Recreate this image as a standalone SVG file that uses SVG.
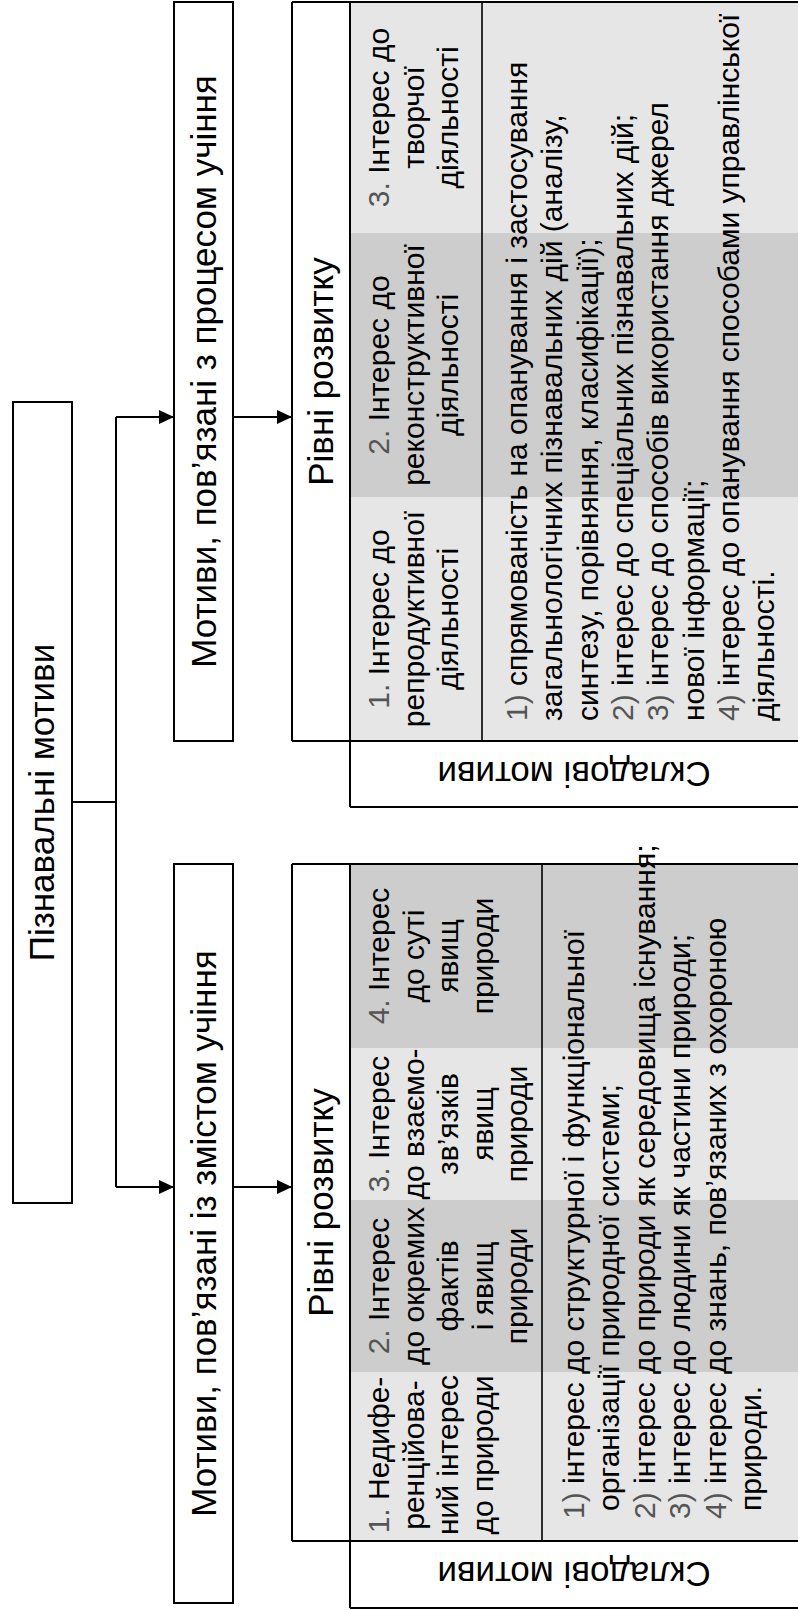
<svg xmlns="http://www.w3.org/2000/svg" width="798" height="1610" viewBox="0 0 798 1610">
<defs>
<style>
text{font-family:"Liberation Sans",Arial,sans-serif;fill:#000}
.big{font-size:35px}
.sm{font-size:30px}
.mid{text-anchor:middle}
.box{fill:#fff;stroke:#000;stroke-width:2}
.ln{stroke:#000;stroke-width:2;fill:none}
.thin{stroke:#000;stroke-width:1.6;fill:none}
.lt{fill:#e6e6e6}
.dk{fill:#cdcdcd}
.n{fill:#555}
</style>
<marker id="ah" viewBox="0 0 15 14" refX="15" refY="7" markerWidth="15" markerHeight="14" markerUnits="userSpaceOnUse" orient="auto">
<path d="M0,0 L15,7 L0,14 z" fill="#000"/>
</marker>
</defs>
<rect width="798" height="1610" fill="#fff"/>

<g id="connectors">
<path class="ln" d="M72,802 H116 M116,417 V1187"/>
<path class="ln" d="M116,417 H174" marker-end="url(#ah)"/>
<path class="ln" d="M116,1187 H174" marker-end="url(#ah)"/>
<path class="ln" d="M233,417 H292" marker-end="url(#ah)"/>
<path class="ln" d="M233,1187 H292" marker-end="url(#ah)"/>
</g>

<g id="root">
<rect class="box" x="13" y="402" width="59" height="801"/>
<text class="big mid" transform="translate(54,802.5) rotate(-90)">Пізнавальні мотиви</text>
</g>

<g id="process">
<rect class="box" x="174" y="2" width="59" height="739"/>
<text class="big mid" transform="translate(216,371.5) rotate(-90)">Мотиви, пов’язані з процесом учіння</text>
</g>

<g id="content">
<rect class="box" x="174" y="864" width="59" height="739"/>
<text class="big mid" transform="translate(216,1233.5) rotate(-90)">Мотиви, пов’язані із змістом учіння</text>
</g>

<g id="process-table">
<rect x="292" y="2" width="58" height="739" fill="#fff"/>
<rect class="lt" x="350" y="497" width="448" height="244"/>
<rect class="dk" x="350" y="233" width="448" height="264"/>
<rect class="lt" x="350" y="2" width="448" height="231"/>
<rect x="350" y="741" width="448" height="66" fill="#fff"/>
<path class="ln" d="M292,2 H798 M292,741 H798 M350,807 H798 M292,2 V741 M350,2 V807"/>
<path class="thin" d="M482,2 V741"/>
<text class="big mid" transform="translate(333,371.5) rotate(-90)">Рівні розвитку</text>
<text class="sm mid" transform="translate(389,619) rotate(-90)"><tspan class="n">1.</tspan> Інтерес до</text>
<text class="sm mid" transform="translate(423.5,619) rotate(-90)">репродуктивної</text>
<text class="sm mid" transform="translate(458,619) rotate(-90)">діяльності</text>
<text class="sm mid" transform="translate(389,365) rotate(-90)"><tspan class="n">2.</tspan> Інтерес до</text>
<text class="sm mid" transform="translate(423.5,365) rotate(-90)">реконструктивної</text>
<text class="sm mid" transform="translate(458,365) rotate(-90)">діяльності</text>
<text class="sm mid" transform="translate(389,117.5) rotate(-90)"><tspan class="n">3.</tspan> Інтерес до</text>
<text class="sm mid" transform="translate(423.5,117.5) rotate(-90)">творчої</text>
<text class="sm mid" transform="translate(458,117.5) rotate(-90)">діяльності</text>
<text class="sm" transform="translate(527,721) rotate(-90)"><tspan class="n">1)</tspan> спрямованість на опанування і застосування</text>
<text class="sm" transform="translate(562.3,721) rotate(-90)">загальнологічних пізнавальних дій (аналізу,</text>
<text class="sm" transform="translate(597.6,721) rotate(-90)">синтезу, порівняння, класифікації);</text>
<text class="sm" transform="translate(632.9,721) rotate(-90)"><tspan class="n">2)</tspan> інтерес до спеціальних пізнавальних дій;</text>
<text class="sm" transform="translate(668.2,721) rotate(-90)"><tspan class="n">3)</tspan> інтерес до способів використання джерел</text>
<text class="sm" transform="translate(703.5,721) rotate(-90)">нової інформації;</text>
<text class="sm" transform="translate(738.8,721) rotate(-90)"><tspan class="n">4)</tspan> інтерес до опанування способами управлінської</text>
<text class="sm" transform="translate(774,721) rotate(-90)">діяльності.</text>
<text class="big mid" transform="translate(574,762) rotate(180)">Складові мотиви</text>
</g>

<g id="content-table">
<rect x="292" y="864" width="58" height="677" fill="#fff"/>
<rect class="lt" x="350" y="1372" width="448" height="169"/>
<rect class="dk" x="350" y="1200" width="448" height="172"/>
<rect class="lt" x="350" y="1048" width="448" height="152"/>
<rect class="dk" x="350" y="864" width="448" height="184"/>
<rect x="350" y="1541" width="448" height="67" fill="#fff"/>
<path class="ln" d="M292,864 H798 M292,1541 H798 M350,1608 H798 M292,864 V1541 M350,864 V1608"/>
<path class="thin" d="M542,864 V1541"/>
<text class="big mid" transform="translate(333,1202.5) rotate(-90)">Рівні розвитку</text>
<text class="sm mid" transform="translate(389,1455) rotate(-90)"><tspan class="n">1.</tspan> Недифе-</text>
<text class="sm mid" transform="translate(423.5,1455) rotate(-90)">ренційова-</text>
<text class="sm mid" transform="translate(458,1455) rotate(-90)">ний інтерес</text>
<text class="sm mid" transform="translate(492.5,1455) rotate(-90)">до природи</text>
<text class="sm mid" transform="translate(389,1286) rotate(-90)"><tspan class="n">2.</tspan> Інтерес</text>
<text class="sm mid" transform="translate(423.5,1286) rotate(-90)">до окремих</text>
<text class="sm mid" transform="translate(458,1286) rotate(-90)">фактів</text>
<text class="sm mid" transform="translate(492.5,1286) rotate(-90)">і явищ</text>
<text class="sm mid" transform="translate(527,1286) rotate(-90)">природи</text>
<text class="sm mid" transform="translate(389,1124) rotate(-90)"><tspan class="n">3.</tspan> Інтерес</text>
<text class="sm mid" transform="translate(423.5,1124) rotate(-90)">до взаємо-</text>
<text class="sm mid" transform="translate(458,1124) rotate(-90)">зв’язків</text>
<text class="sm mid" transform="translate(492.5,1124) rotate(-90)">явищ</text>
<text class="sm mid" transform="translate(527,1124) rotate(-90)">природи</text>
<text class="sm mid" transform="translate(389,956) rotate(-90)"><tspan class="n">4.</tspan> Інтерес</text>
<text class="sm mid" transform="translate(423.5,956) rotate(-90)">до суті</text>
<text class="sm mid" transform="translate(458,956) rotate(-90)">явищ</text>
<text class="sm mid" transform="translate(492.5,956) rotate(-90)">природи</text>
<text class="sm" transform="translate(584,1519) rotate(-90)"><tspan class="n">1)</tspan> інтерес до структурної і функціональної</text>
<text class="sm" transform="translate(619.4,1511) rotate(-90)">організації природної системи;</text>
<text class="sm" transform="translate(654.8,1519) rotate(-90)"><tspan class="n">2)</tspan> інтерес до природи як середовища існування;</text>
<text class="sm" transform="translate(690.2,1519) rotate(-90)"><tspan class="n">3)</tspan> інтерес до людини як частини природи;</text>
<text class="sm" transform="translate(725.6,1519) rotate(-90)"><tspan class="n">4)</tspan> інтерес до знань, пов’язаних з охороною</text>
<text class="sm" transform="translate(761,1511) rotate(-90)">природи.</text>
<text class="big mid" transform="translate(574,1562) rotate(180)">Складові мотиви</text>
</g>
</svg>
